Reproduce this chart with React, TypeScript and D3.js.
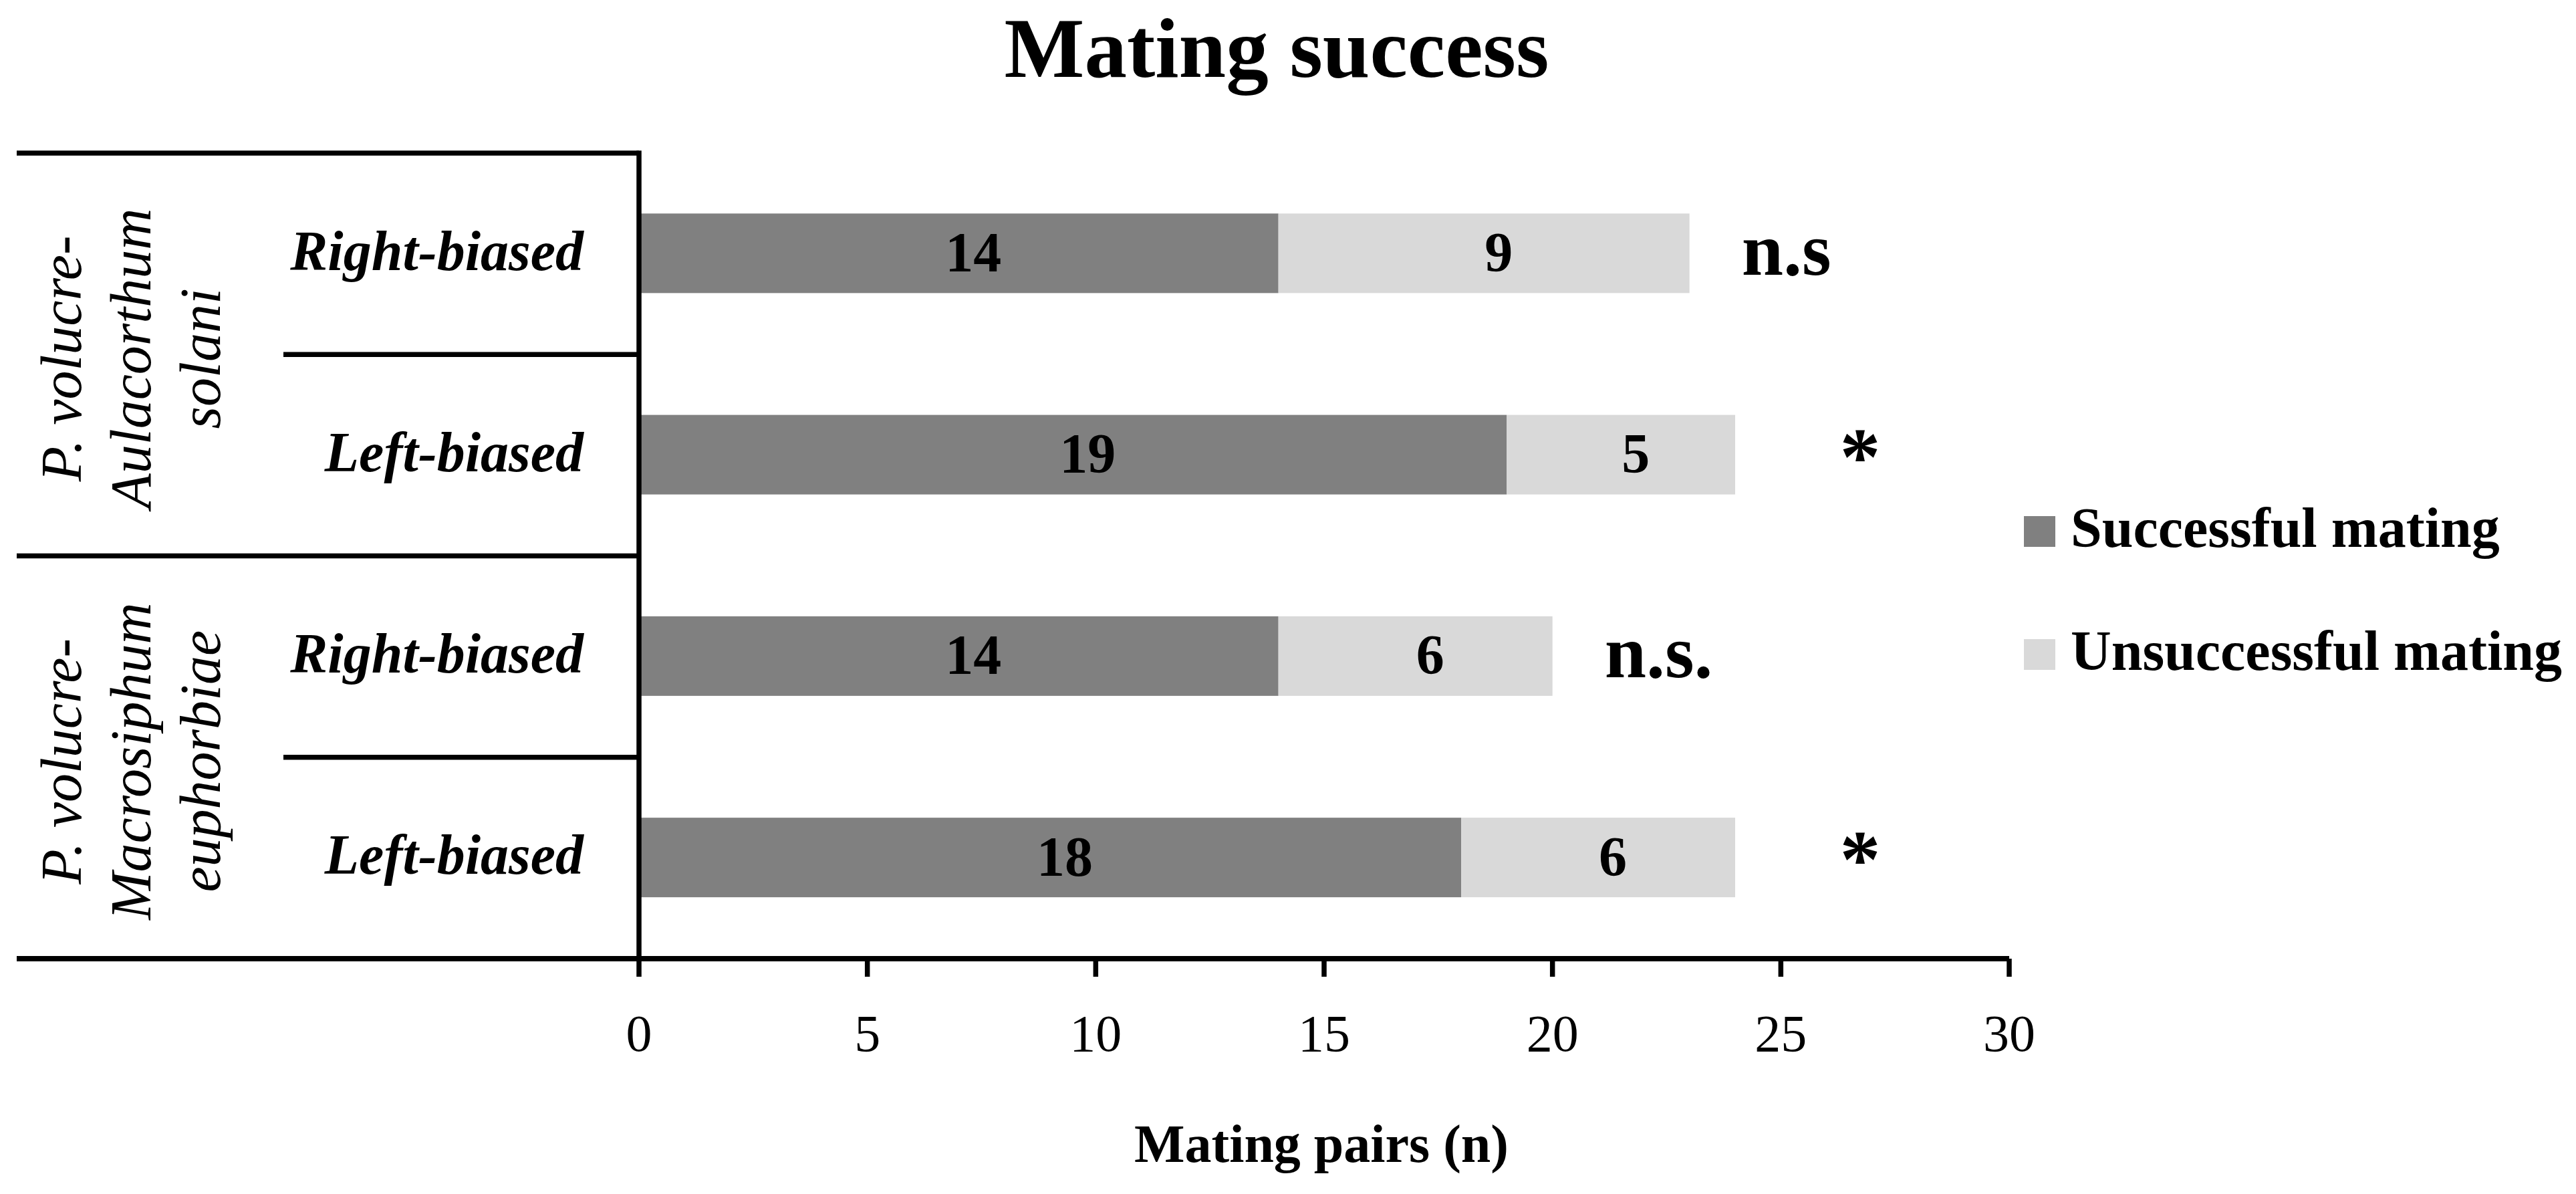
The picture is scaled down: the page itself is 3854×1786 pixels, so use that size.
import { useEffect } from "react";
import * as d3 from "d3";

const W = 3854;
const H = 1786;

// data
const rowIds = ["AS-right", "AS-left", "ME-right", "ME-left"];
const rowLabels = ["Right-biased", "Left-biased", "Right-biased", "Left-biased"];
const successful = [14, 19, 14, 18];
const unsuccessful = [9, 5, 6, 6];
const significance = ["n.s", "*", "n.s.", "*"];
const groupLines = [
  ["P. volucre-", "Aulacorthum", "solani"],
  ["P. volucre-", "Macrosiphum", "euphorbiae"],
];
const xTicks = [0, 5, 10, 15, 20, 25, 30];
const seriesNames = ["Successful mating", "Unsuccessful mating"];
const seriesColors = ["#808080", "#d9d9d9"];

const font = "'Palatino Linotype', 'Book Antiqua', Palatino, 'Liberation Serif', serif";
const lineW = 7.5;

const x = d3.scaleLinear().domain([0, 30]).range([956, 3006]);
const y = d3.scaleBand<string>().domain(rowIds).range([229, 1434]).padding(0);
const step = y.step();
const barH = step * 0.395;
const barOff = step * 0.3;

const stackData = rowIds.map((id, i) => ({ id, s: successful[i], u: unsuccessful[i] }));
const stacked = d3.stack<{ id: string; s: number; u: number }>().keys(["s", "u"])(stackData);

const tableLeft = 25;
const innerLeft = 424;

export default function App() {
  useEffect(() => {
    document.body.style.margin = "0";
    document.body.style.background = "#fff";
  }, []);

  const rowCenter = (id: string) => (y(id) ?? 0) + step / 2;

  return (
    <svg width={W} height={H} viewBox={`0 0 ${W} ${H}`} style={{ display: "block", background: "#fff" }} fontFamily={font}>
      {/* title */}
      <text x={1910} y={115} textAnchor="middle" fontSize={127} fontWeight="bold">
        Mating success
      </text>

      {/* bars */}
      {stacked.map((layer, li) => (
        <g key={layer.key} fill={seriesColors[li]}>
          {layer.map((d) => (
            <rect
              key={d.data.id}
              x={x(d[0])}
              y={(y(d.data.id) ?? 0) + barOff}
              width={x(d[1]) - x(d[0])}
              height={barH}
            />
          ))}
        </g>
      ))}

      {/* value labels */}
      {stacked.map((layer) =>
        layer.map((d) => (
          <text
            key={layer.key + d.data.id}
            x={x((d[0] + d[1]) / 2) + 22}
            y={(y(d.data.id) ?? 0) + barOff + barH / 2 + 27}
            textAnchor="middle"
            fontSize={84}
            fontWeight="bold"
          >
            {d[1] - d[0]}
          </text>
        ))
      )}

      {/* significance marks */}
      {rowIds.map((id, i) => {
        const total = successful[i] + unsuccessful[i];
        const isStar = significance[i] === "*";
        return isStar ? (
          <text key={id} x={x(total) + 187} y={rowCenter(id) + 44} textAnchor="middle" fontSize={122} fontWeight="bold">
            *
          </text>
        ) : (
          <text key={id} x={x(total) + 78} y={rowCenter(id) + 31} fontSize={112} fontWeight="bold">
            {significance[i]}
          </text>
        );
      })}

      {/* table lines */}
      <g stroke="#000" strokeWidth={lineW} fill="none">
        <line x1={tableLeft} x2={x(0)} y1={y.range()[0]} y2={y.range()[0]} />
        {rowIds.slice(1).map((id, i) => (
          <line
            key={id}
            x1={i % 2 === 1 ? tableLeft : innerLeft}
            x2={x(0)}
            y1={y(id) ?? 0}
            y2={y(id) ?? 0}
          />
        ))}
        <line x1={tableLeft} x2={x(30)} y1={y.range()[1]} y2={y.range()[1]} strokeWidth={8} />
        <line x1={x(0)} x2={x(0)} y1={y.range()[0] - lineW / 2} y2={y.range()[1] + 27} />
        {xTicks.slice(1).map((t) => (
          <line key={t} x1={x(t)} x2={x(t)} y1={y.range()[1]} y2={y.range()[1] + 27} />
        ))}
      </g>

      {/* x tick labels */}
      {xTicks.map((t) => (
        <text key={t} x={x(t)} y={1572} textAnchor="middle" fontSize={78}>
          {t}
        </text>
      ))}

      {/* x axis title */}
      <text x={1977} y={1738} textAnchor="middle" fontSize={80} fontWeight="bold">
        Mating pairs (n)
      </text>

      {/* row labels */}
      {rowIds.map((id, i) => (
        <text key={id} x={873} y={rowCenter(id) + 24} textAnchor="end" fontSize={84} fontWeight="bold" fontStyle="italic">
          {rowLabels[i]}
        </text>
      ))}

      {/* group labels */}
      {groupLines.map((lines, g) => {
        const cy = (y(rowIds[g * 2]) ?? 0) + step + 6;
        return (
          <g key={g} transform={`translate(0,${cy}) rotate(-90)`}>
            {lines.map((ln, k) => (
              <text key={k} x={0} y={121 + k * 104} textAnchor="middle" fontSize={86} fontStyle="italic">
                {ln}
              </text>
            ))}
          </g>
        );
      })}

      {/* legend */}
      {seriesNames.map((name, i) => (
        <g key={name} transform={`translate(3028,${818 + i * 184})`}>
          <rect x={0} y={-46} width={47} height={46} fill={seriesColors[i]} />
          <text x={70} y={0} fontSize={84} fontWeight="bold">
            {name}
          </text>
        </g>
      ))}
    </svg>
  );
}
